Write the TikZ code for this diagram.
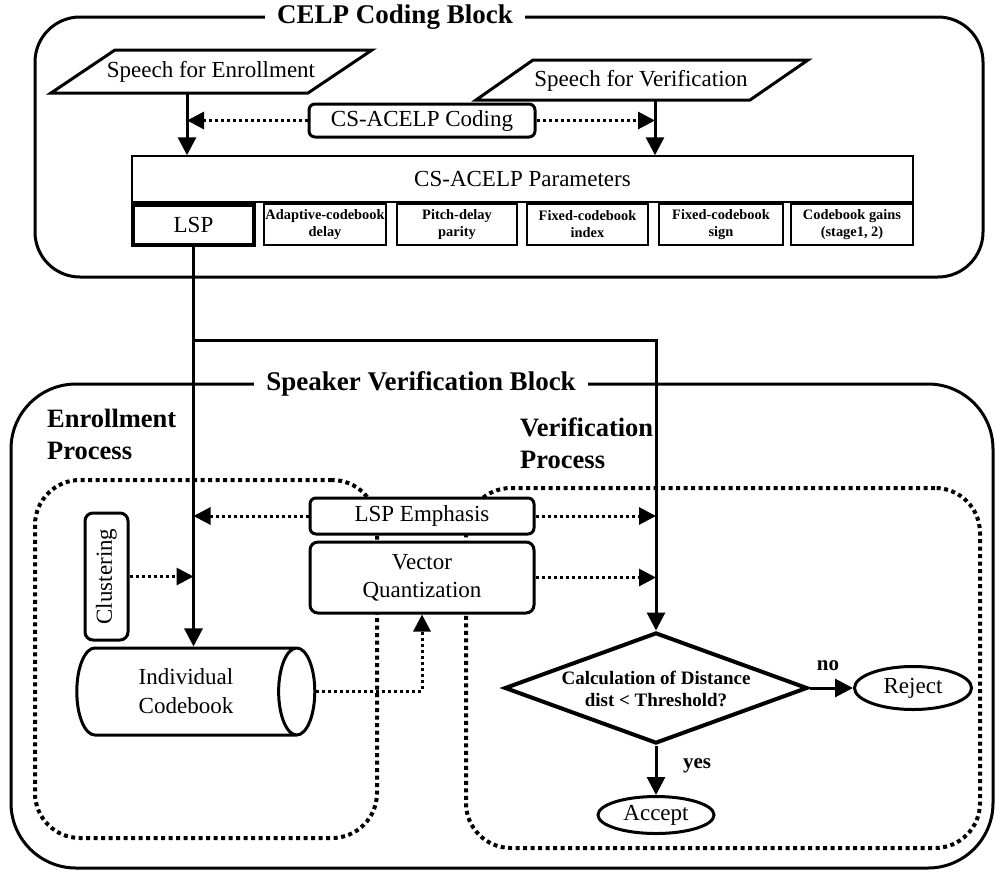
\documentclass[tikz,border=0pt]{standalone}
\usepackage{fontspec}
\usepackage{graphicx}
\setmainfont{Liberation Serif}
\usetikzlibrary{arrows.meta,shapes.geometric}
\begin{document}
\begin{tikzpicture}[x=1pt,y=-1pt,
  every node/.style={font=\fontsize{23}{27}\selectfont, inner sep=0pt},
  bigblock/.style={draw, line width=3pt, rectangle, rounded corners=45pt},
  blocktitle/.style={fill=white, font=\bfseries\fontsize{27}{32}\selectfont, inner xsep=12pt, inner ysep=3pt},
  proclabel/.style={font=\bfseries\fontsize{26.5}{32}\selectfont, align=left, anchor=west},
  para/.style={draw, line width=3pt, line join=miter},
  rbox/.style={draw, fill=white, line width=3pt, rounded corners=6pt, rectangle, align=center},
  pbox/.style={draw, fill=white, line width=1.5pt, rectangle, align=center},
  small/.style={font=\bfseries\fontsize{14.4}{17}\selectfont},
  region/.style={draw, line width=4pt, dash pattern=on 4pt off 3.5pt, rounded corners=45pt, rectangle},
  flow/.style={line width=3pt, -{Triangle[length=18pt,width=18pt]}},
  dotflow/.style={line width=3pt, dash pattern=on 3pt off 3pt, -{Triangle[length=17pt,width=17pt]}},
  oval/.style={draw, fill=white, ellipse, line width=3pt},
  lbl/.style={font=\bfseries\fontsize{21}{25}\selectfont}]
\useasboundingbox (0,0) rectangle (996,876);

% outer blocks
\node[bigblock, minimum width=948pt, minimum height=260pt] (celp) at (509,147) {};
\node[blocktitle] (celptitle) at (395,17) {CELP Coding Block};
\node[bigblock, rounded corners=65pt, minimum width=982pt, minimum height=484pt] (svb) at (502,626) {};
\node[blocktitle] (svtitle) at (421,384) {Speaker Verification Block};

\node[proclabel] (enrlabel) at (47,434) {Enrollment\\Process};
\node[proclabel] (verlabel) at (520,443) {Verification\\Process};

% dotted regions
\node[region, minimum width=342pt, minimum height=358pt] (enrregion) at (206,659) {};
\node[region, minimum width=514pt, minimum height=360pt] (verregion) at (723,668) {};

% speech inputs
\draw[para] (51,93) -- (115,50) -- (372,50) -- (308,93) -- cycle;
\node (enrspeech) at (211,72) {Speech for Enrollment};
\draw[para] (476,100) -- (533,60) -- (808,60) -- (750,100) -- cycle;
\node (verspeech) at (641,81) {Speech for Verification};
\coordinate (enrout) at (187,93);
\coordinate (verout) at (655,100);

% coding
\node[rbox, minimum width=226pt, minimum height=33pt] (coding) at (422,120.5) {CS-ACELP Coding};

% parameters
\node[pbox, minimum width=781pt, minimum height=46pt] (params) at (522.5,179) {CS-ACELP Parameters};
\node[pbox, line width=4pt, minimum width=121pt, minimum height=40pt] (lsp) at (193.5,224.5) {LSP};
\node[pbox, small, minimum width=122pt, minimum height=41pt] (acd) at (325,224.5) {Adaptive-codebook\\delay};
\node[pbox, small, minimum width=120pt, minimum height=41pt] (pdp) at (457,224.5) {Pitch-delay\\parity};
\node[pbox, small, minimum width=121pt, minimum height=41pt] (fci) at (587.5,224.5) {Fixed-codebook\\index};
\node[pbox, small, minimum width=124pt, minimum height=41pt] (fcs) at (721,224.5) {Fixed-codebook\\sign};
\node[pbox, small, minimum width=122pt, minimum height=41pt] (cbg) at (852,224.5) {Codebook gains\\(stage1, 2)};

% verification block nodes
\node[rbox, minimum width=224pt, minimum height=36pt] (emph) at (422,516) {LSP Emphasis};
\node[rbox, rounded corners=8pt, minimum width=224pt, minimum height=71pt, font=\fontsize{23}{28}\selectfont] (vq) at (422,577.5) {Vector\\Quantization};
\node[rbox, rounded corners=8pt, minimum width=43pt, minimum height=127pt] (clust) at (106.5,576.5) {\rotatebox{90}{Clustering}};
\node[cylinder, draw, fill=white, line width=3pt, minimum width=87pt, minimum height=238pt, aspect=0.8, align=center, font=\fontsize{23}{29}\selectfont] (cb) at (186,691.5) {Individual\\Codebook};

\node[diamond, draw, fill=white, line width=4pt, minimum width=303pt, minimum height=111pt] (dia) at (656,688) {};
\node[font=\bfseries\fontsize{19}{22}\selectfont, align=center] (diatext) at (656,689) {Calculation of Distance\\dist < Threshold?};
\node[oval, minimum width=117pt, minimum height=43pt] (rej) at (913,688) {Reject};
\node[oval, minimum width=116pt, minimum height=37pt] (acc) at (656,815) {Accept};
\node[lbl] (nolabel) at (828,666) {no};
\node[lbl] (yeslabel) at (697,766) {yes};

% connectors
\draw[flow] (enrout) -- (enrout |- params.north);
\draw[flow] (verout) -- (verout |- params.north);
\draw[dotflow] (coding.west) -- (coding.west -| enrout);
\draw[dotflow] (coding.east) -- (coding.east -| verout);

\path (lsp.south) ++(0,94) coordinate (split);
\draw[flow] (lsp.south) -- (lsp.south |- cb.north);
\draw[flow] (split) -| (dia.north);
\draw[dotflow] (emph.west) -- (emph.west -| lsp.south);
\draw[dotflow] (emph.east) -- (emph.east -| dia.north);
\draw[dotflow] (vq.east) -- (vq.east -| dia.north);
\draw[dotflow] (clust.east) -- (clust.east -| lsp.south);
\draw[dotflow] (cb.east) -| (vq.south);
\draw[flow] (dia.east) -- (rej.west);
\draw[flow] (dia.south) -- (acc.north);
\end{tikzpicture}
\end{document}
